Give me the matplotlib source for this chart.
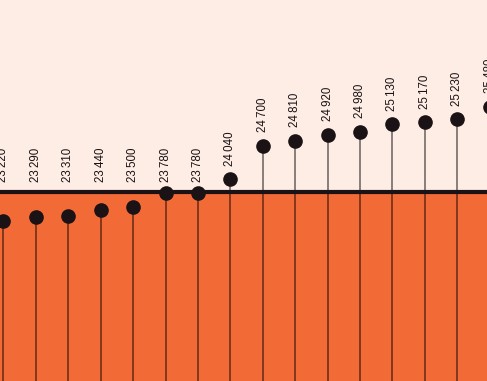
import numpy as np
import matplotlib
matplotlib.use("Agg")
import matplotlib.pyplot as plt

# values (left to right)
VALUES = [23220, 23290, 23310, 23440, 23500, 23780, 23780, 24040,
          24700, 24810, 24920, 24980, 25130, 25170, 25230, 25480]
THRESHOLD = 23800

PEACH = "#fdede5"
ORANGE = "#f26a35"
DARK = "#1a1214"

plt.rcParams['font.family'] = ['Liberation Sans', 'DejaVu Sans']


def fmt(v):
    # thousands separated by a thin space
    return f"{v:,}".replace(",", "\u2009")


def plot_lollipops(values, threshold):
    fig = plt.figure(figsize=(4.87, 3.81), dpi=100)
    ax = fig.add_axes([0, 0, 1, 1])
    ax.set_facecolor(PEACH)
    fig.patch.set_facecolor(PEACH)

    x = np.arange(len(values))
    ymin, ymax = 20040, 27600
    ax.set_xlim(-0.108, 14.92)
    ax.set_ylim(ymin, ymax)

    # orange area below the threshold line
    ax.axhspan(ymin, threshold, color=ORANGE, zorder=0, lw=0)

    # stems down to the bottom
    ax.vlines(x, ymin, values, color="black", alpha=0.5, lw=1.3, zorder=1)
    ax.plot(x, values, "o", color=DARK, markersize=9.5, zorder=2)

    ax.axhline(threshold, color=DARK, lw=3, zorder=3)

    for xi, v in zip(x, values):
        if v >= threshold:
            ax.annotate(fmt(v), (xi, v), xytext=(0, 10), textcoords="offset points",
                        rotation=90, ha="center", va="bottom", fontsize=8.3,
                        color=DARK, zorder=4, annotation_clip=False)
        else:
            ax.annotate(fmt(v), (xi, threshold), xytext=(0, 7), textcoords="offset points",
                        rotation=90, ha="center", va="bottom", fontsize=8.3,
                        color=DARK, zorder=4, annotation_clip=False)

    ax.axis("off")
    fig.savefig("out.png", dpi=100, facecolor=PEACH)


if __name__ == "__main__":
    plot_lollipops(VALUES, THRESHOLD)
